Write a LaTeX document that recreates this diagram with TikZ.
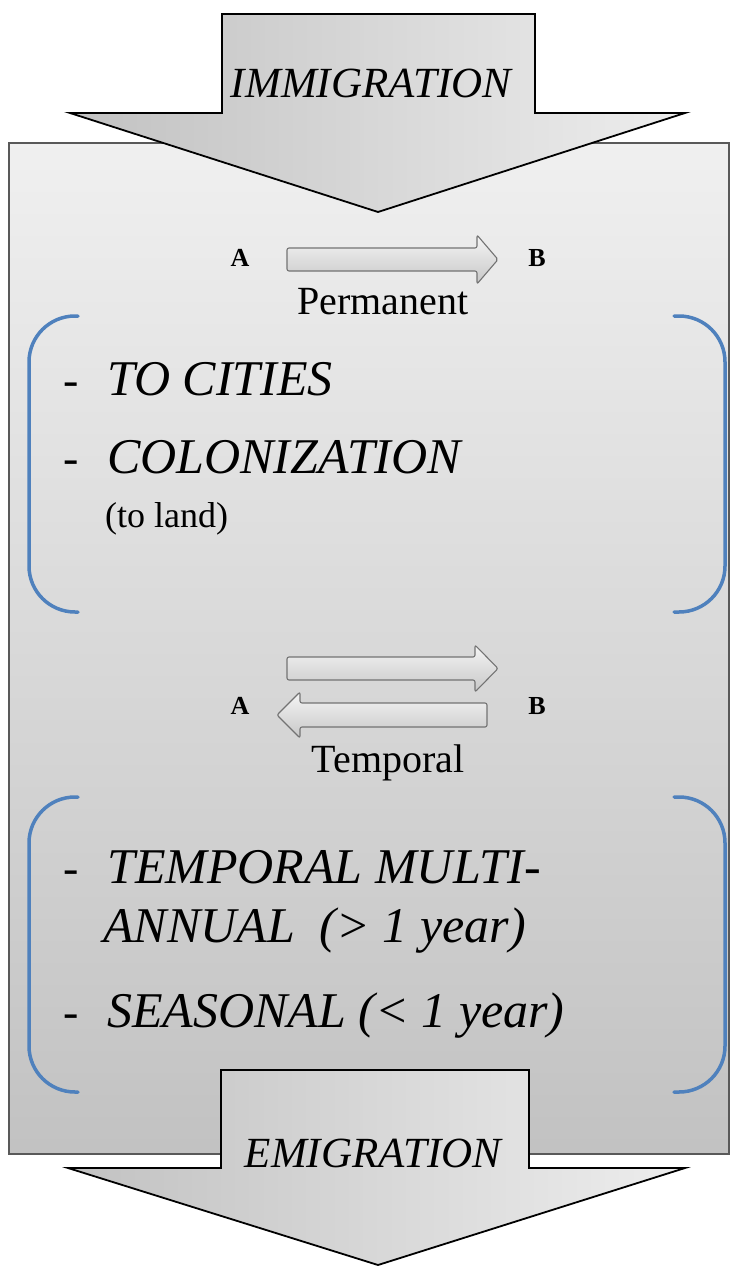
\documentclass[tikz,border=0pt]{standalone}
\usepackage{fontspec}
\setmainfont{Liberation Serif}
\usepackage{xcolor}
\usepackage{tikz}
\usetikzlibrary{positioning, arrows.meta, calc}
\definecolor{bracketblue}{HTML}{4F81BD}
\newcommand{\bigitem}{\fontsize{50}{60}\selectfont\itshape}
\newcommand{\flowtext}{\fontsize{43}{50}\selectfont\itshape}

\begin{document}
\begin{tikzpicture}[
    x=1pt, y=-1pt,
    bigarrow/.style={draw=black, line width=1.8pt, left color=black!24, right color=black!7, line join=miter},
    smallarrow/.style={draw=black!55, line width=1.1pt, top color=black!4, bottom color=black!22, rounded corners=2pt},
    bracket/.style={draw=bracketblue, line width=3.5pt, rounded corners=46pt, line cap=round},
    itemtext/.style={anchor=base west, inner sep=0pt, font=\bigitem},
    dashmark/.style={anchor=base west, inner sep=0pt, font=\fontsize{46}{50}\selectfont},
    endpoint/.style={inner sep=0pt, font=\fontsize{26}{30}\selectfont\bfseries},
    kindlabel/.style={anchor=base, inner sep=0pt, font=\fontsize{40}{46}\selectfont},
]
\useasboundingbox (0,0) rectangle (731,1268);

% main panel
\draw[draw=black!65, line width=1.5pt, top color=black!6, bottom color=black!24] (9,143) rectangle (729,1154);

% immigration / emigration
\draw[bigarrow] (222,14) -- (535,14) -- (535,113) -- (685,113) -- (378,212) -- (70,113) -- (222,113) -- cycle;
\node[anchor=base, inner sep=0pt, font=\flowtext] (immig) at (371,98) {IMMIGRATION};
\draw[bigarrow] (221,1070) -- (529,1070) -- (529,1168) -- (685,1168) -- (378,1265) -- (68,1168) -- (221,1168) -- cycle;
\node[anchor=base, inner sep=0pt, font=\flowtext] (emig) at (373,1167) {EMIGRATION};

% permanent
\node[endpoint] (pa) at (240,258) {A};
\node[endpoint] (pb) at (537,258) {B};
\draw[smallarrow] (287,248) -- (477,248) -- (477,235) -- (498,259.5) -- (477,284) -- (477,271) -- (287,271) -- cycle;
\node[kindlabel] (perm) at (383,314) {Permanent};

\draw[bracket] (78,316) -- (29,316) -- (29,612) -- (78,612);
\draw[bracket] (674,316) -- (725,316) -- (725,612) -- (674,612);
\node[dashmark] (d1) at (63,395) {-};
\node[itemtext] (cities) at (107,395) {TO CITIES};
\node[dashmark] (d2) at (63,473) {-};
\node[itemtext] (colon) at (107,473) {COLONIZATION};
\node[anchor=base west, inner sep=0pt, font=\fontsize{36}{40}\selectfont] (land) at (105,527) {(to land)};

% temporal
\node[endpoint] (ta) at (240,706) {A};
\node[endpoint] (tb) at (537,706) {B};
\draw[smallarrow] (287,657) -- (475,657) -- (475,645) -- (498,668.5) -- (475,692) -- (475,680) -- (287,680) -- cycle;
\draw[smallarrow] (487,703) -- (300,703) -- (300,692) -- (277,715) -- (300,738) -- (300,727) -- (487,727) -- cycle;
\node[kindlabel] (temp) at (388,772) {Temporal};

\draw[bracket] (78,797) -- (29,797) -- (29,1092) -- (78,1092);
\draw[bracket] (674,797) -- (725,797) -- (725,1092) -- (674,1092);
\node[dashmark] (d3) at (63,883) {-};
\node[itemtext] (multi) at (107,883) {TEMPORAL MULTI-};
\node[itemtext] (annual) at (103,942) {ANNUAL~~(> 1 year)};
\node[dashmark] (d4) at (63,1027) {-};
\node[itemtext] (season) at (107,1027) {SEASONAL (< 1 year)};
\end{tikzpicture}
\end{document}
